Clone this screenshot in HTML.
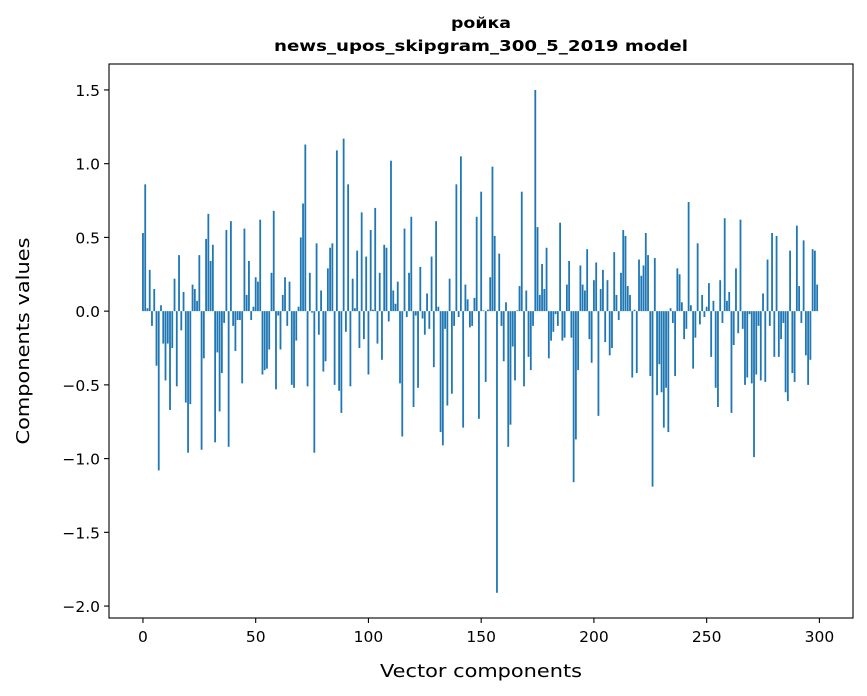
<!DOCTYPE html>
<html><head><meta charset="utf-8"><style>
body{margin:0;background:#fff;}
svg{display:block;font-family:"DejaVu Sans","Liberation Sans",sans-serif;}
</style></head><body>
<svg id="chart" width="867" height="696">
<rect width="867" height="696" fill="#fff"/>
<text x="481" y="28" text-anchor="middle" font-size="15.5" font-weight="bold" textLength="60" lengthAdjust="spacingAndGlyphs">ройка</text>
<text x="481" y="51" text-anchor="middle" font-size="15.5" font-weight="bold" textLength="414" lengthAdjust="spacingAndGlyphs">news_upos_skipgram_300_5_2019 model</text>
<g id="bars"></g>
<g id="axes"></g>
<text x="481" y="677" text-anchor="middle" font-size="18" textLength="202" lengthAdjust="spacingAndGlyphs">Vector components</text>
<text transform="translate(29,341) rotate(-90)" text-anchor="middle" font-size="18" textLength="207" lengthAdjust="spacingAndGlyphs">Components values</text>
</svg>
<script>
const values = [0.53,0.86,0.02,0.28,-0.10,0.15,-0.37,-1.08,0.04,-0.22,-0.47,-0.22,-0.67,-0.25,0.22,-0.51,0.38,-0.13,0.13,-0.62,
-0.96,-0.63,0.18,0.15,0.07,0.38,-0.94,-0.32,0.49,0.66,0.34,0.45,-0.89,-0.28,-0.68,-0.42,-0.08,0.55,-0.92,0.61,
-0.10,-0.27,-0.06,-0.06,-0.49,0.56,0.11,0.34,-0.06,0.03,0.23,0.20,0.62,-0.43,-0.40,-0.39,-0.26,0.26,0.68,-0.53,
-0.03,-0.26,0.11,0.23,-0.10,0.20,-0.50,-0.52,-0.20,0.03,0.50,0.73,1.13,-0.51,0.26,-0.01,-0.96,0.46,-0.16,0.14,
-0.41,-0.34,0.29,0.43,0.46,-0.50,1.09,-0.54,-0.69,1.17,-0.14,0.86,-0.51,0.22,0.02,0.41,-0.25,0.67,-0.19,0.37,
-0.43,0.55,0.01,0.70,-0.22,0.26,-0.33,0.45,0.43,-0.07,1.02,0.14,0.05,0.20,-0.49,-0.85,0.56,-0.04,0.26,0.64,
-0.65,-0.03,-0.52,0.30,-0.05,-0.16,0.12,-0.12,0.37,-0.38,0.61,0.03,-0.82,-0.91,-0.12,-0.64,0.22,-0.56,-0.10,0.86,
-0.04,1.05,-0.79,0.18,0.08,-0.11,-0.10,0.09,0.64,-0.73,0.81,0.005,-0.48,0.01,0.23,0.98,0.51,-1.91,0.39,-0.10,
-0.34,0.06,-0.92,-0.77,-0.24,-0.47,0.005,0.17,0.81,-0.51,0.14,-0.31,-0.40,-0.10,1.50,0.57,0.11,0.32,0.15,0.43,
-0.32,-0.20,-0.14,-0.02,-0.10,0.60,-0.20,-0.18,0.18,0.34,-0.18,-1.16,-0.87,-0.40,0.31,0.18,0.14,0.42,-0.19,-0.35,
0.21,0.33,-0.71,0.15,0.28,-0.21,0.21,-0.30,-0.25,0.40,0.11,-0.06,0.26,0.55,0.51,0.17,0.11,-0.45,0.01,-0.42,
0.35,0.24,0.31,0.53,0.38,-0.44,-1.19,0.36,-0.57,-0.36,-0.55,-0.79,-0.52,-0.82,0.02,-0.08,-0.44,0.29,0.25,0.06,
-0.19,-0.12,0.74,0.04,-0.39,-0.18,0.46,-0.09,0.11,-0.04,0.03,0.19,-0.31,0.07,-0.52,-0.65,0.21,-0.08,0.63,0.07,
0.13,-0.69,-0.23,0.29,-0.15,0.62,-0.12,-0.50,-0.45,-0.02,-0.49,-0.99,-0.43,-0.10,-0.47,0.12,-0.48,0.35,-0.10,0.53,
-0.31,0.51,-0.31,-0.19,-0.08,-0.55,-0.61,0.41,-0.42,-0.48,0.58,0.17,-0.08,0.48,-0.30,-0.50,-0.33,0.42,0.41,0.18];
const xTicks = [0,50,100,150,200,250,300];
const yTicks = [-2.0,-1.5,-1.0,-0.5,0.0,0.5,1.0,1.5];
const yTickLabels = ["\u22122.0","\u22121.5","\u22121.0","\u22120.5","0.0","0.5","1.0","1.5"];

const L=109,R=853,T=64,B=618;
const xMin=-15.06,xMax=314.9,yMin=-2.081,yMax=1.676;
const xs=v=>L+(v-xMin)/(xMax-xMin)*(R-L);
const ys=v=>B-(v-yMin)/(yMax-yMin)*(B-T);
const NS="http://www.w3.org/2000/svg";
const bars=document.getElementById('bars');
const axes=document.getElementById('axes');
values.forEach((v,i)=>{
  const r=document.createElementNS(NS,'rect');
  const x0=xs(i-0.4),x1=xs(i+0.4);
  const y0=ys(Math.max(v,0)),y1=ys(Math.min(v,0));
  r.setAttribute('x',x0);r.setAttribute('width',x1-x0);
  r.setAttribute('y',y0);r.setAttribute('height',Math.max(y1-y0,0.01));
  r.setAttribute('fill','#1f77b4');
  
  
  bars.appendChild(r);
});
const frame=document.createElementNS(NS,'rect');
frame.setAttribute('x',L);frame.setAttribute('y',T);
frame.setAttribute('width',R-L);frame.setAttribute('height',B-T);
frame.setAttribute('fill','none');frame.setAttribute('stroke','#000');frame.setAttribute('stroke-width','1.1');


axes.appendChild(frame);
xTicks.forEach(t=>{
  const x=xs(t);
  const l=document.createElementNS(NS,'line');
  l.setAttribute('x1',x);l.setAttribute('x2',x);l.setAttribute('y1',B);l.setAttribute('y2',B+5);
  l.setAttribute('stroke','#000');l.setAttribute('stroke-width','1.1');
  
  
  axes.appendChild(l);
  const tx=document.createElementNS(NS,'text');
  tx.setAttribute('x',x);tx.setAttribute('y',B+24);tx.setAttribute('text-anchor','middle');tx.setAttribute('font-size','15.5');
  tx.textContent=String(t);
  
  
  axes.appendChild(tx);
});
yTicks.forEach((t,k)=>{
  const y=ys(t);
  const l=document.createElementNS(NS,'line');
  l.setAttribute('x1',L-5);l.setAttribute('x2',L);l.setAttribute('y1',y);l.setAttribute('y2',y);
  l.setAttribute('stroke','#000');l.setAttribute('stroke-width','1.1');
  
  
  axes.appendChild(l);
  const tx=document.createElementNS(NS,'text');
  tx.setAttribute('x',L-9);tx.setAttribute('y',y+6);tx.setAttribute('text-anchor','end');tx.setAttribute('font-size','15.5');
  tx.textContent=yTickLabels[k];
  
  
  axes.appendChild(tx);
});
</script>
</body></html>
